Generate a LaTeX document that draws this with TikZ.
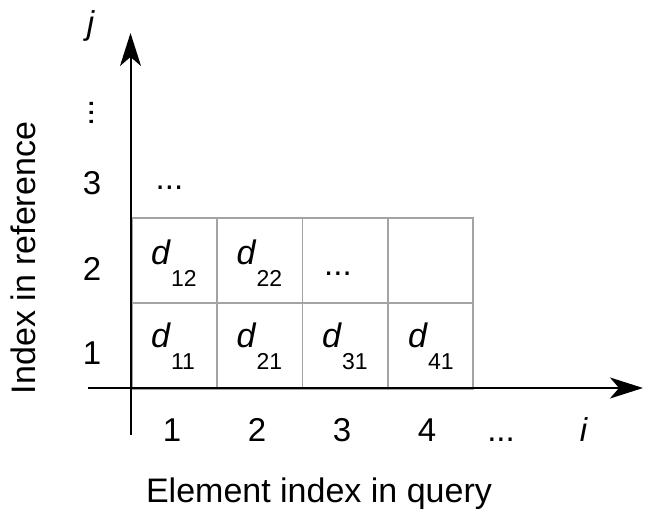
\documentclass[tikz,border=0pt]{standalone}
\usepackage{fontspec}
\setmainfont{Liberation Sans}
\usetikzlibrary{arrows.meta}
\begin{document}
\begin{tikzpicture}[x=1pt,y=-1pt,
  cellbox/.style={draw=black!36,line width=1.8pt,minimum width=85.25pt,minimum height=85.5pt,inner sep=0pt,anchor=north west},
  axisline/.style={line width=2pt,-{Stealth[length=33pt,width=21pt,inset=9pt]}},
  big/.style={font=\fontsize{33}{38}\selectfont,inner sep=0pt},
  lab/.style={font=\fontsize{34}{39}\selectfont,inner sep=0pt},
  dlab/.style={font=\fontsize{34}{39}\selectfont,inner sep=0pt,anchor=base west}]
\useasboundingbox (0,0) rectangle (646,510);
% grid cells
\node[cellbox] (c11) at (131,302.5) {};
\node[cellbox] (c21) at (216.25,302.5) {};
\node[cellbox] (c31) at (301.5,302.5) {};
\node[cellbox] (c41) at (386.75,302.5) {};
\node[cellbox] (c12) at (131,217) {};
\node[cellbox] (c22) at (216.25,217) {};
\node[cellbox] (c32) at (301.5,217) {};
\node[cellbox] (c42) at (386.75,217) {};
% cell labels
\newcommand{\dsub}[1]{\textit{d}\raisebox{-22pt}{\fontsize{23}{26}\selectfont #1}}
\node[dlab] (d12) at (151,265) {\dsub{12}};
\node[dlab] (d22) at (236.5,265) {\dsub{22}};
\node[big,anchor=base] (e32) at (338,276) {...};
\node[dlab] (d11) at (151,348) {\dsub{11}};
\node[dlab] (d21) at (236.5,348) {\dsub{21}};
\node[dlab] (d31) at (322,348) {\dsub{31}};
\node[dlab] (d41) at (408,348) {\dsub{41}};
\node[big,anchor=base] (e13) at (169.5,190) {...};
% axes
\coordinate (xs) at (88,388);
\coordinate (xe) at (643,388);
\coordinate (ys) at (130.5,435);
\coordinate (ye) at (130.5,33);
\draw[axisline] (xs) -- (xe);
\draw[axisline] (ys) -- (ye);
% tick labels
\node[big,anchor=base] (x1) at (172,442) {1};
\node[big,anchor=base] (x2) at (257,442) {2};
\node[big,anchor=base] (x3) at (342,442) {3};
\node[big,anchor=base] (x4) at (427,442) {4};
\node[big,anchor=base] (xd) at (501,442) {...};
\node[big,anchor=base] (xi) at (584,442) {\textit{i}};
\node[big,anchor=base] (y1) at (92,365) {1};
\node[big,anchor=base] (y2) at (92,281) {2};
\node[big,anchor=base] (y3) at (92,195) {3};
\node[big,rotate=90] (yd) at (92,113) {...};
\node[big,anchor=base] (yj) at (91,35) {\textit{j}};
% axis titles
\node[lab,anchor=base] (xt) at (319,503) {Element index in query};
\node[lab,anchor=base,rotate=90] (yt) at (35,258) {Index in reference};
\end{tikzpicture}
\end{document}
